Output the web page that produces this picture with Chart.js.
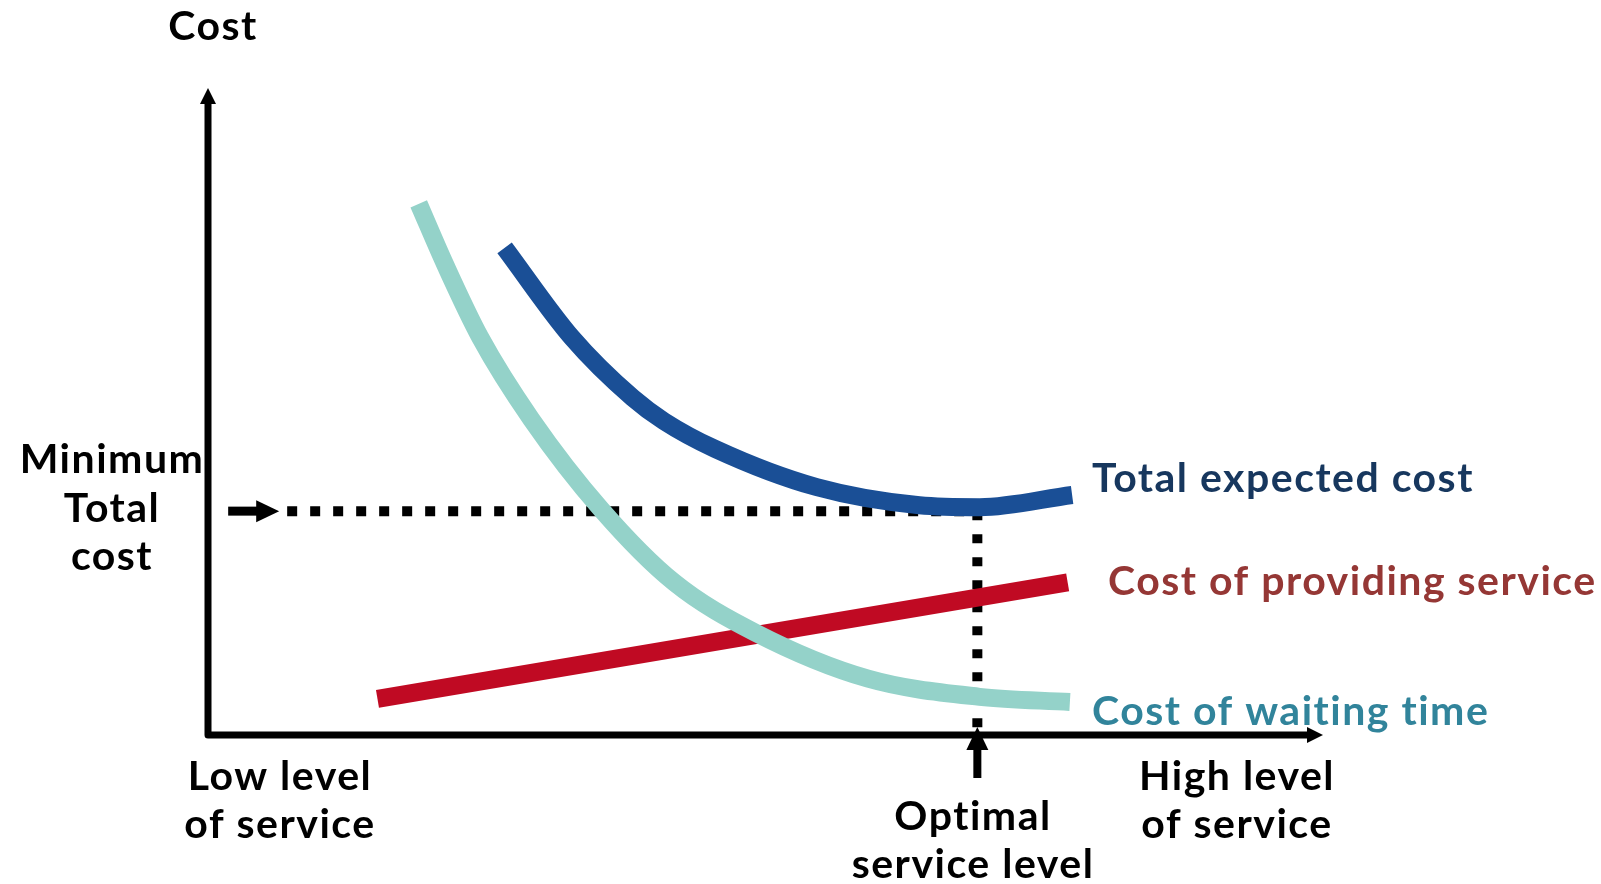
<!DOCTYPE html>
<html>
<head>
<meta charset="utf-8">
<script src="https://cdn.jsdelivr.net/npm/chart.js@4"></script>
<style>
  body { margin: 0; background: #fff; }
  #wrap { width: 1601px; height: 884px; position: relative; }
</style>
</head>
<body>
<div id="wrap"><canvas id="grafico"></canvas></div>
<script>
// service level (0..100) vs cost (0..100)
var totalX = [26.6, 32.6, 38.1, 40.9, 45.5, 54.6, 63.8, 69.2, 77.5];
var totalY = [75.3, 61.5, 52.1, 48.5, 44.2, 38.3, 35.5, 35.2, 37.1];

var waitX = [18.9, 21.3, 24.4, 29.0, 35.3, 41.8, 49.1, 59.2, 69.2, 77.3];
var waitY = [82.1, 72.6, 61.5, 48.8, 34.8, 23.6, 15.8, 8.7, 5.9, 5.1];

var serviceX = [15.2, 77.1];
var serviceY = [5.6, 23.6];

var optimalLevel = 69.0;
var minTotalCost = 34.6;
var dottedStart = 7.1;

function pontos(xs, ys) {
    var out = [];
    for (var i = 0; i < xs.length; i++) {
        out.push({ x: xs[i], y: ys[i] });
    }
    return out;
}

var fonte = 'bold 41px Lato';

// axes, arrows and text labels
var desenho = {
    id: 'desenho',
    afterDraw: function (chart) {
        var ctx = chart.ctx;
        var xs = chart.scales.x, ys = chart.scales.y;
        var x0 = xs.getPixelForValue(0), y0 = ys.getPixelForValue(0);
        var top = chart.chartArea.top, right = chart.chartArea.right;
        ctx.save();

        // axes
        ctx.strokeStyle = '#000';
        ctx.fillStyle = '#000';
        ctx.lineWidth = 7;
        ctx.lineJoin = 'round';
        ctx.beginPath();
        ctx.moveTo(x0, top + 12);
        ctx.lineTo(x0, y0);
        ctx.lineTo(right - 12, y0);
        ctx.stroke();
        ctx.beginPath();
        ctx.moveTo(x0, top);
        ctx.lineTo(x0 - 8, top + 16);
        ctx.lineTo(x0 + 8, top + 16);
        ctx.closePath();
        ctx.fill();
        ctx.beginPath();
        ctx.moveTo(right, y0);
        ctx.lineTo(right - 16, y0 - 8);
        ctx.lineTo(right - 16, y0 + 8);
        ctx.closePath();
        ctx.fill();

        // arrow pointing at minimum total cost
        var ym = ys.getPixelForValue(minTotalCost);
        var tip = xs.getPixelForValue(dottedStart) - 8;
        ctx.fillRect(tip - 51, ym - 4.5, 30, 9);
        ctx.beginPath();
        ctx.moveTo(tip, ym);
        ctx.lineTo(tip - 23, ym - 11);
        ctx.lineTo(tip - 23, ym + 11);
        ctx.closePath();
        ctx.fill();

        // arrow pointing at optimal service level
        var xo = xs.getPixelForValue(optimalLevel);
        ctx.beginPath();
        ctx.moveTo(xo, y0 - 8);
        ctx.lineTo(xo - 11, y0 + 15);
        ctx.lineTo(xo + 11, y0 + 15);
        ctx.closePath();
        ctx.fill();
        ctx.fillRect(xo - 4, y0 + 14, 8, 29);

        // texts
        ctx.font = fonte;
        ctx.letterSpacing = '1.5px';
        ctx.textAlign = 'center';
        ctx.textBaseline = 'alphabetic';
        ctx.fillStyle = '#000';
        ctx.fillText('Cost', 213, 40);
        ctx.fillText('Minimum', 112, 473);
        ctx.fillText('Total', 112, 522);
        ctx.fillText('cost', 112, 570);
        ctx.fillText('Low level', 280, 790);
        ctx.fillText('of service', 280, 838);
        ctx.fillText('High level', 1237, 790);
        ctx.fillText('of service', 1237, 838);
        ctx.fillText('Optimal', 973, 830);
        ctx.fillText('service level', 973, 878);

        ctx.textAlign = 'left';
        ctx.fillStyle = '#17375E';
        ctx.fillText('Total expected cost', 1092, 492);
        ctx.fillStyle = '#953735';
        ctx.fillText('Cost of providing service', 1108, 595);
        ctx.fillStyle = '#31849B';
        ctx.fillText('Cost of waiting time', 1092, 725);
        ctx.restore();
    }
};

var config = {
    type: 'scatter',
    data: {
        datasets: [{
            label: 'Total expected cost',
            data: pontos(totalX, totalY),
            borderColor: '#1A4F96',
            borderWidth: 18,
            cubicInterpolationMode: 'monotone'
        }, {
            label: 'Cost of waiting time',
            data: pontos(waitX, waitY),
            borderColor: '#94D2C9',
            borderWidth: 18,
            cubicInterpolationMode: 'monotone'
        }, {
            label: 'Cost of providing service',
            data: pontos(serviceX, serviceY),
            borderColor: '#C00A23',
            borderWidth: 18
        }, {
            label: 'Minimum total cost',
            data: [{ x: dottedStart, y: minTotalCost }, { x: optimalLevel, y: minTotalCost }],
            borderColor: '#000',
            borderWidth: 10,
            borderDash: [10, 13]
        }, {
            label: 'Optimal service level',
            data: [{ x: optimalLevel, y: minTotalCost }, { x: optimalLevel, y: 0 }],
            borderColor: '#000',
            borderWidth: 10,
            borderDash: [9, 14]
        }]
    },
    options: {
        responsive: true,
        maintainAspectRatio: false,
        animation: false,
        showLine: true,
        elements: { point: { radius: 0, hoverRadius: 0 } },
        layout: { padding: { left: 208, right: 278, top: 88, bottom: 149 } },
        scales: {
            x: { type: 'linear', min: 0, max: 100, display: false },
            y: { type: 'linear', min: 0, max: 100, display: false }
        },
        plugins: {
            legend: { display: false },
            tooltip: { enabled: false }
        }
    },
    plugins: [desenho]
};

new Chart(document.getElementById('grafico'), config);
</script>
</body>
</html>
